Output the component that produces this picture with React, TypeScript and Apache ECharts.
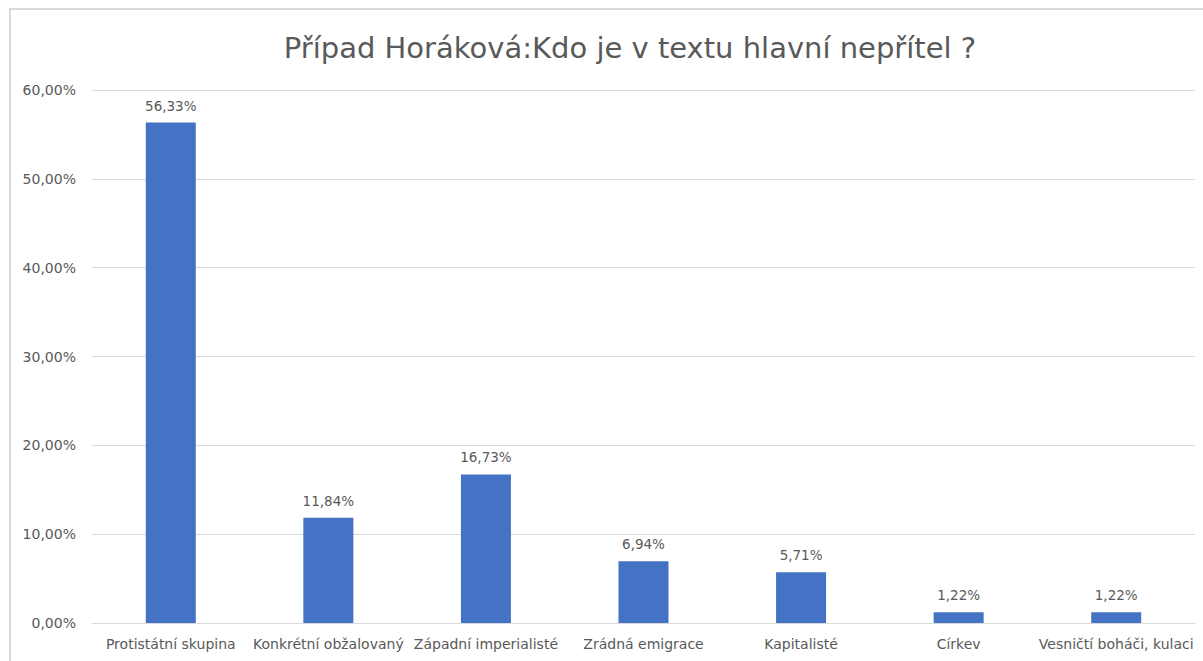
import React, { useEffect, useRef } from "react";
import * as echarts from "echarts";

const categories = [
  "Protistátní skupina",
  "Konkrétní obžalovaný",
  "Západní imperialisté",
  "Zrádná emigrace",
  "Kapitalisté",
  "Církev",
  "Vesničtí boháči, kulaci",
];
const values = [56.33, 11.84, 16.73, 6.94, 5.71, 1.22, 1.22];
const titleText = "Případ Horáková:Kdo je v textu hlavní nepřítel ?";

const fmt = (v: number) => v.toFixed(2).replace(".", ",") + "%";
const FONT = "'DejaVu Sans', sans-serif";

export default function App() {
  const ref = useRef<HTMLDivElement>(null);
  useEffect(() => {
    if (!ref.current) return;
    const chart = echarts.init(ref.current, undefined, { renderer: "svg" });
    chart.setOption({
      animation: false,
      backgroundColor: "#ffffff",
      title: {
        text: titleText,
        left: 625,
        textAlign: "center",
        top: 28,
        textStyle: { fontFamily: FONT, fontSize: 29, fontWeight: "normal", color: "#595959" },
      },
      graphic: [
        {
          type: "polyline",
          shape: { points: [[10, 700], [10, 9], [1210, 9]] },
          style: { stroke: "#d9d9d9", lineWidth: 2, fill: "none" },
          silent: true,
        },
      ],
      grid: { left: 92, right: 8, top: 90, bottom: 38, containLabel: false },
      xAxis: {
        type: "category",
        data: categories,
        axisLine: { show: true, lineStyle: { color: "#d9d9d9", width: 1 } },
        axisTick: { show: false },
        axisLabel: {
          color: "#595959",
          fontFamily: FONT,
          fontSize: 14,
          margin: 14,
          interval: 0,
        },
      },
      yAxis: {
        type: "value",
        min: 0,
        max: 60,
        interval: 10,
        axisLine: { show: false },
        axisTick: { show: false },
        splitLine: { lineStyle: { color: "#d9d9d9", width: 1 } },
        axisLabel: {
          color: "#595959",
          fontFamily: FONT,
          fontSize: 14,
          margin: 16,
          formatter: (v: number) => fmt(v),
        },
      },
      series: [
        {
          type: "bar",
          data: values,
          barWidth: 50,
          itemStyle: { color: "#4472C4" },
          label: {
            show: true,
            position: "top",
            distance: 10,
            color: "#595959",
            fontFamily: FONT,
            fontSize: 13.5,
            formatter: (p: any) => fmt(p.value),
          },
        },
      ],
    });
    return () => chart.dispose();
  }, []);
  return (
    <div
      ref={ref}
      style={{ position: "fixed", left: 0, top: 0, width: 1203, height: 661 }}
    />
  );
}
